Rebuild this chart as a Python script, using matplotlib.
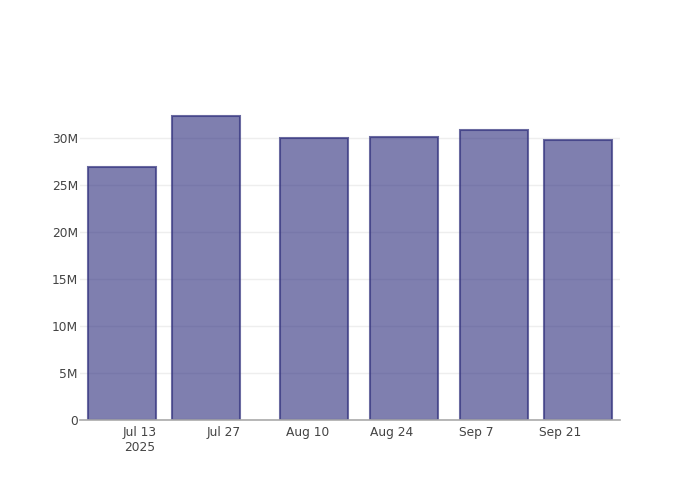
import numpy as np
import pandas as pd
import matplotlib
matplotlib.use("Agg")
import matplotlib.pyplot as plt
import matplotlib.dates as mdates

# 数据
dates = ["2025-07-10", "2025-07-24", "2025-08-11", "2025-08-26", "2025-09-10", "2025-09-24"]
values = [26.92e6, 32.35e6, 30.01e6, 30.08e6, 30.90e6, 29.80e6]

xtick_dates = ["2025-07-13", "2025-07-27", "2025-08-10", "2025-08-24", "2025-09-07", "2025-09-21"]
xtick_labels = ["Jul 13\n2025", "Jul 27", "Aug 10", "Aug 24", "Sep 7", "Sep 21"]
ytick_values = [0, 5e6, 10e6, 15e6, 20e6, 25e6, 30e6]
ytick_labels = ["0", "5M", "10M", "15M", "20M", "25M", "30M"]

x = mdates.date2num(pd.to_datetime(dates))
xt = mdates.date2num(pd.to_datetime(xtick_dates))

fig = plt.figure(figsize=(7, 5), dpi=100)
ax = fig.add_axes([80 / 700, 80 / 500, 540 / 700, 320 / 500])

ax.bar(x, values, width=11.2,
       color=(42 / 255, 42 / 255, 123 / 255, 0.6),
       edgecolor=(50 / 255, 50 / 255, 125 / 255, 0.72),
       linewidth=1.5, zorder=3)

# 以刻度为基准设置x范围：每像素约1/6天
ax.set_xlim(xt[0] - 10.0, xt[-1] + 10.0)
ax.set_ylim(0, max(values) * 1.0525)

ax.set_xticks(xt)
ax.set_xticklabels(xtick_labels)
ax.set_yticks(ytick_values)
ax.set_yticklabels(ytick_labels)

ax.tick_params(axis="both", length=0, labelsize=8.8, colors="#444444")
ax.tick_params(axis="x", pad=4)
ax.tick_params(axis="y", pad=1.5)

ax.grid(axis="y", color="#eeeeee", linewidth=1, zorder=0)
ax.set_axisbelow(True)
for s in ["top", "right", "left"]:
    ax.spines[s].set_visible(False)
ax.spines["bottom"].set_color("#aaaaaa")
ax.spines["bottom"].set_linewidth(1.2)
ax.spines["bottom"].set_zorder(4)

fig.savefig("out.png", dpi=100)
